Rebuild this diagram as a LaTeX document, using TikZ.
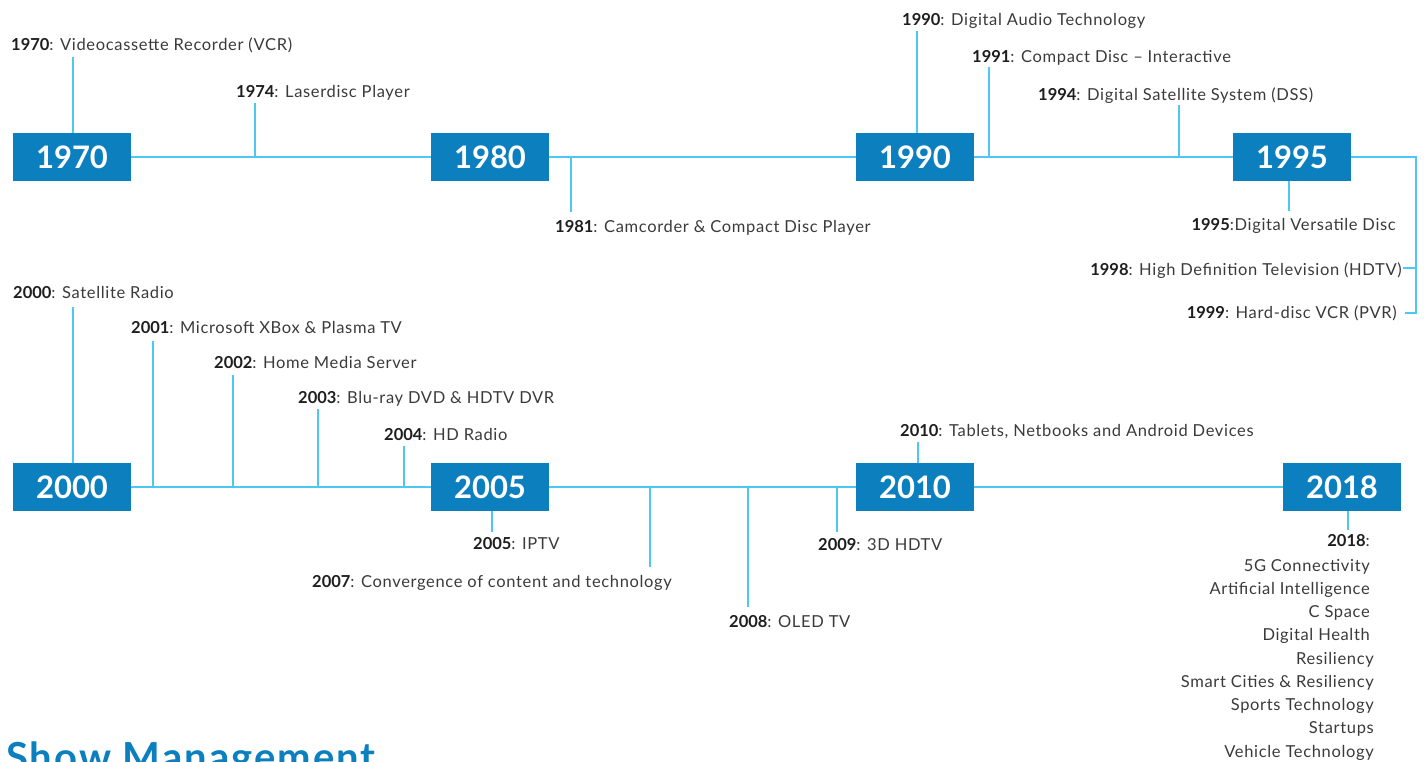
\documentclass[tikz,border=0pt]{standalone}
\usepackage{fontspec}
\setmainfont{Lato}[LetterSpace=4]
\newfontfamily\yrfont{Lato}
\newfontfamily\ttlfont{Lato}[LetterSpace=5]
\definecolor{boxblue}{HTML}{0C80BF}
\definecolor{lineblue}{HTML}{4DC8F2}
\definecolor{txt}{HTML}{3A3A3A}
\definecolor{yr}{HTML}{1E1E1E}
\tikzset{
  yearbox/.style={fill=boxblue, text=white, minimum width=118pt, minimum height=48pt, inner sep=0pt,
    font=\yrfont\fontsize{31}{31}\selectfont\bfseries},
  conn/.style={draw=lineblue, line width=2pt},
  lbl/.style={inner sep=0pt, text=txt, font=\fontsize{16.5}{19}\selectfont},
  lblw/.style={lbl, anchor=base west},
  lble/.style={lbl, anchor=base east},
}
\newcommand{\yy}[1]{{\yrfont\color{yr}\bfseries #1}}
\begin{document}
\begin{tikzpicture}[x=1pt,y=-1pt]
\useasboundingbox (0,0) rectangle (1424,761);
% boxes row 1
\node[yearbox] (b1970) at (72,157) {1970};
\node[yearbox] (b1980) at (490,157) {1980};
\node[yearbox] (b1990) at (915,157) {1990};
\node[yearbox] (b1995) at (1292,157) {1995};
% boxes row 2
\node[yearbox] (b2000) at (72,487) {2000};
\node[yearbox] (b2005) at (490,487) {2005};
\node[yearbox] (b2010) at (915,487) {2010};
\node[yearbox] (b2018) at (1342,487) {2018};
% main lines
\draw[conn] (b1970.east) -- (b1980.west);
\draw[conn] (b1980.east) -- (b1990.west);
\draw[conn] (b1990.east) -- (b1995.west);
\draw[conn] (b2000.east) -- (b2005.west);
\draw[conn] (b2005.east) -- (b2010.west);
\draw[conn] (b2010.east) -- (b2018.west);
% labels row 1
\node[lblw] (l1970) at (11,50) {\yy{1970}: Videocassette Recorder (VCR)};
\node[lblw] (l1974) at (236,97) {\yy{1974}: Laserdisc Player};
\node[lblw] (l1981) at (555,232) {\yy{1981}: Camcorder \& Compact Disc Player};
\node[lblw] (l1990) at (902,25) {\yy{1990}: Digital Audio Technology};
\node[lblw] (l1991) at (972,62) {\yy{1991}: Compact Disc – Interactive};
\node[lblw] (l1994) at (1038,100) {\yy{1994}: Digital Satellite System (DSS)};
\node[lble] (l1995) at (1396,230) {\yy{1995}:Digital Versatile Disc};
\node[lble] (l1998) at (1402,275) {\yy{1998}: High Definition Television (HDTV)};
\node[lble] (l1999) at (1397,318) {\yy{1999}: Hard-disc VCR (PVR)};
% connectors row 1
\coordinate (t1970) at (73,57);
\coordinate (t1974) at (255,103);
\coordinate (t1981) at (571,212);
\coordinate (t1990) at (917,31);
\coordinate (t1991) at (989,67);
\coordinate (t1994) at (1179,105);
\coordinate (t1995) at (1289,211);
\draw[conn] (t1970) -- (t1970 |- b1970.north);
\draw[conn] (t1974) -- (t1974 |- b1970.east);
\draw[conn] (t1981) -- (t1981 |- b1980.east);
\draw[conn] (t1990) -- (t1990 |- b1990.north);
\draw[conn] (t1991) -- (t1991 |- b1990.east);
\draw[conn] (t1994) -- (t1994 |- b1990.east);
\draw[conn] (t1995) -- (t1995 |- b1995.south);
\coordinate (rb) at (1416,0);
\coordinate (e1998) at (1403,268);
\coordinate (e1999) at (1405,313);
\draw[conn] (b1995.east) -- (rb |- b1995.east) -- (rb |- e1999) -- (e1999);
\draw[conn] (rb |- e1998) -- (e1998);
% labels row 2
\node[lblw] (l2000) at (13,298) {\yy{2000}: Satellite Radio};
\node[lblw] (l2001) at (131,333) {\yy{2001}: Microsoft XBox \& Plasma TV};
\node[lblw] (l2002) at (214,368) {\yy{2002}: Home Media Server};
\node[lblw] (l2003) at (298,403) {\yy{2003}: Blu-ray DVD \& HDTV DVR};
\node[lblw] (l2004) at (384,440) {\yy{2004}: HD Radio};
\node[lblw] (l2005) at (473,549) {\yy{2005}: IPTV};
\node[lblw] (l2007) at (312,587) {\yy{2007}: Convergence of content and technology};
\node[lblw] (l2008) at (729,627) {\yy{2008}: OLED TV};
\node[lblw] (l2009) at (818,550) {\yy{2009}: 3D HDTV};
\node[lblw] (l2010) at (900,436) {\yy{2010}: Tablets, Netbooks and Android Devices};
\node[lble] (l2018) at (1370,546) {\yy{2018}:};
\node[lble] (m1) at (1370,571) {5G Connectivity};
\node[lble] (m2) at (1370,594) {Artificial Intelligence};
\node[lble] (m3) at (1370,617) {C Space};
\node[lble] (m4) at (1370,640) {Digital Health};
\node[lble] (m5) at (1374,664) {Resiliency};
\node[lble] (m6) at (1374,687) {Smart Cities \& Resiliency};
\node[lble] (m7) at (1374,710) {Sports Technology};
\node[lble] (m8) at (1374,733) {Startups};
\node[lble] (m9) at (1374,757) {Vehicle Technology};
% connectors row 2
\coordinate (t2000) at (73,307);
\coordinate (t2001) at (153,341);
\coordinate (t2002) at (233,375);
\coordinate (t2003) at (318,409);
\coordinate (t2004) at (404,446);
\coordinate (t2005) at (492,532);
\coordinate (t2007) at (650,567);
\coordinate (t2008) at (748,607);
\coordinate (t2009) at (837,532);
\coordinate (t2010) at (918,442);
\coordinate (t2018) at (1348,530);
\draw[conn] (t2000) -- (t2000 |- b2000.north);
\draw[conn] (t2001) -- (t2001 |- b2000.east);
\draw[conn] (t2002) -- (t2002 |- b2000.east);
\draw[conn] (t2003) -- (t2003 |- b2000.east);
\draw[conn] (t2004) -- (t2004 |- b2000.east);
\draw[conn] (t2005) -- (t2005 |- b2005.south);
\draw[conn] (t2007) -- (t2007 |- b2005.east);
\draw[conn] (t2008) -- (t2008 |- b2005.east);
\draw[conn] (t2009) -- (t2009 |- b2005.east);
\draw[conn] (t2010) -- (t2010 |- b2010.north);
\draw[conn] (t2018) -- (t2018 |- b2018.south);
% bottom title
\node[anchor=base west, inner sep=0pt, text=boxblue, font=\ttlfont\fontsize{40}{40}\selectfont\bfseries] (title) at (6,771) {Show Management};
\end{tikzpicture}
\end{document}
